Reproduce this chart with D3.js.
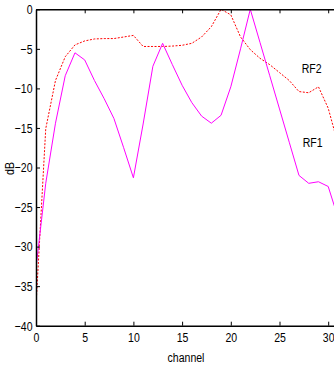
<!DOCTYPE html>
<html>
<head>
<meta charset="utf-8">
<script src="https://cdn.jsdelivr.net/npm/d3@7"></script>
<style>
    body { margin: 0; background: #fff; }
    svg { display: block; font-family: "Liberation Sans", Arial, sans-serif; }
</style>
</head>
<body>
<div id="chart"></div>
<script>
(function () {
    "use strict";

    const channels = d3.range(0, 32);
    const rf1 = [-32.7, -22, -14.4, -8.4, -5.5, -6.4, -9.0, -11.3, -13.8, -17.5, -21.3,
        -14.5, -7.2, -4.3, -7.0, -9.6, -11.8, -13.5, -14.4, -13.4, -9.8,
        -5.0, 0, -4.2, -8.4, -12.6, -16.8, -21.0, -22.0, -21.8, -22.4, -26.3];
    const rf2 = [-37.5, -15.1, -9.0, -6.0, -4.5, -4.0, -3.75, -3.7, -3.7, -3.5, -3.3,
        -4.7, -4.7, -4.7, -4.65, -4.55, -4.3, -3.5, -2.2, 0, -0.7,
        -3.5, -5.1, -6.2, -7.0, -8.0, -9.0, -10.4, -10.55, -9.8, -12.5, -17.0];
    const xTicks = [0, 5, 10, 15, 20, 25, 30];
    const yTicks = [0, -5, -10, -15, -20, -25, -30, -35, -40];
    const seriesLabels = [
        { name: "RF2", ch: 27.28, value: -8.1 },
        { name: "RF1", ch: 27.38, value: -17.4 }
    ];

    const width = 334;
    const height = 367;
    const left = 36, top = 9.3, bottom = 325.7;
    const fontSize = 13.5;
    const squeeze = "scale(0.78,1)";   // text in the original is tall and narrow

    const x = d3.scaleLinear().domain([0, 31]).range([left, left + 31 * 9.74]);
    const y = d3.scaleLinear().domain([-40, 0]).range([bottom, top]);

    const svg = d3.select("#chart").append("svg")
        .attr("width", width)
        .attr("height", height);

    svg.append("clipPath").attr("id", "plot")
        .append("rect")
        .attr("x", left).attr("y", top - 1)
        .attr("width", width - left).attr("height", bottom - top + 2);

    const line = d3.line()
        .x((d, i) => x(channels[i]))
        .y(d => y(d));

    const g = svg.append("g").attr("clip-path", "url(#plot)");

    g.append("path")
        .datum(rf2)
        .attr("d", line)
        .attr("fill", "none")
        .attr("stroke", "#ff0000")
        .attr("stroke-width", 1)
        .attr("stroke-dasharray", "2,1.5");

    g.append("path")
        .datum(rf1)
        .attr("d", line)
        .attr("fill", "none")
        .attr("stroke", "#ff00ff")
        .attr("stroke-width", 1);

    // axes, ticks inward like matlab
    svg.append("g")
        .attr("transform", `translate(0,${bottom})`)
        .call(d3.axisBottom(x).tickValues(xTicks).tickSize(-4).tickPadding(7).tickSizeOuter(0))
        .call(a => a.select(".domain").attr("stroke-width", 1.5));

    svg.append("g")
        .attr("transform", `translate(0,${top})`)
        .call(d3.axisTop(x).tickValues(xTicks).tickSize(-4).tickFormat("").tickSizeOuter(0))
        .call(a => a.select(".domain").attr("stroke-width", 1.5));

    svg.append("g")
        .attr("transform", `translate(${left},0)`)
        .call(d3.axisLeft(y).tickValues(yTicks).tickSize(-4).tickPadding(4.5).tickSizeOuter(0))
        .call(a => a.select(".domain").attr("stroke-width", 1.5));

    svg.selectAll(".tick text")
        .attr("font-size", fontSize)
        .attr("font-family", null)
        .attr("transform", squeeze)
        .attr("fill", "#000");

    svg.append("text")
        .attr("transform", `translate(${(x(0) + x(30.6)) / 2 + 1},362) ${squeeze}`)
        .attr("text-anchor", "middle")
        .attr("font-size", fontSize)
        .text("channel");

    svg.append("text")
        .attr("transform", `translate(14,${(top + bottom) / 2 + 1}) rotate(-90) ${squeeze}`)
        .attr("text-anchor", "middle")
        .attr("font-size", fontSize)
        .text("dB");

    svg.selectAll(".series-label")
        .data(seriesLabels)
        .join("text")
        .attr("class", "series-label")
        .attr("transform", d => `translate(${x(d.ch)},${y(d.value)}) ${squeeze}`)
        .attr("font-size", fontSize)
        .text(d => d.name);
}());
</script>
</body>
</html>
